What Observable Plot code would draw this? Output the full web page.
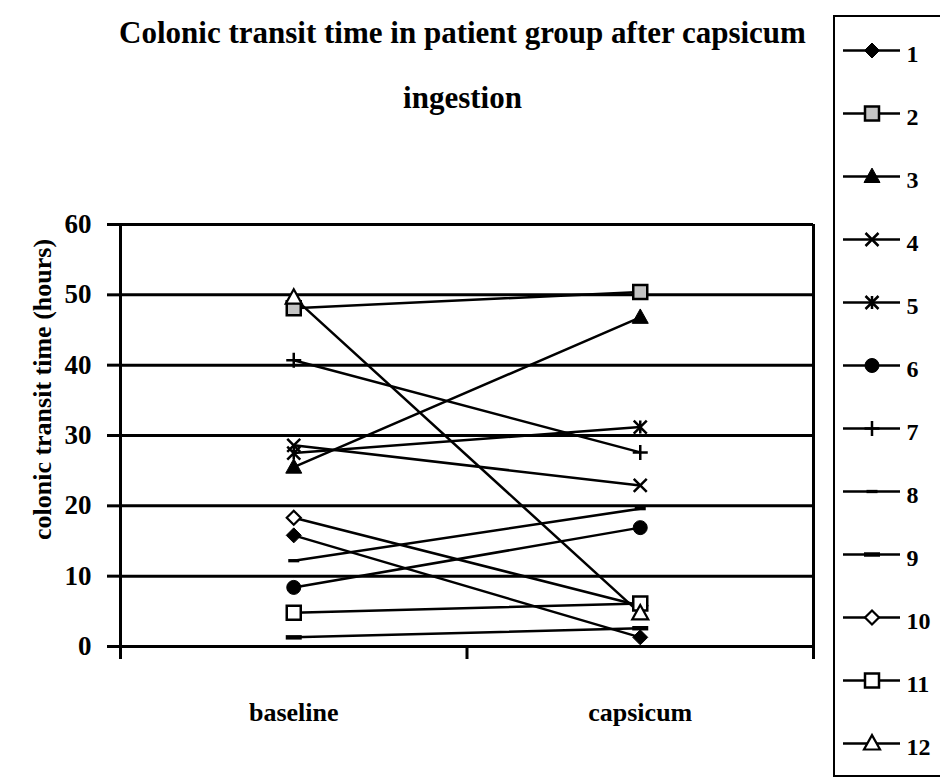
<!DOCTYPE html>
<html>
<head>
<meta charset="utf-8">
<script src="https://cdn.jsdelivr.net/npm/d3@7"></script>
<script src="https://cdn.jsdelivr.net/npm/@observablehq/plot@0.6"></script>
<style>
  html, body { margin: 0; padding: 0; background: white; }
  #wrap { position: relative; width: 940px; height: 780px; overflow: hidden; font-family: "Liberation Serif", "Times New Roman", serif; font-weight: bold; color: black; }
  #title { position: absolute; left: 0; top: 0; width: 925px; text-align: center; font-size: 31px; }
  #title div { position: absolute; width: 100%; }
  #main { position: absolute; left: 0; top: 140px; }
  #legend { position: absolute; left: 833px; top: 15px; width: 112px; height: 762px; box-sizing: border-box; border: 2.5px solid black; }
  #legend svg { position: absolute; left: -2.5px; top: -2.5px; max-width: none !important; height: 762px !important; }
</style>
</head>
<body>
<div id="wrap">
  <div id="title">
    <div style="top:15px">Colonic transit time in patient group after capsicum</div>
    <div style="top:80px">ingestion</div>
  </div>
  <div id="main"></div>
  <div id="legend"></div>
</div>
<script>
// ---- data ----
const series = ["1", "2", "3", "4", "5", "6", "7", "8", "9", "10", "11", "12"];
const categories = ["baseline", "capsicum"];
const baseline = [15.8, 48.1, 25.5, 28.6, 27.5, 8.4, 40.7, 12.2, 1.3, 18.3, 4.8, 49.6];
const capsicum = [1.3, 50.4, 46.8, 22.9, 31.2, 16.9, 27.6, 19.6, 2.6, 5.8, 6.1, 4.7];
const yTicks = [0, 10, 20, 30, 40, 50, 60];
const yLabel = "colonic transit time (hours)";

// ---- marker styles (one per series) ----
function sym(fn) { return { draw(ctx, size) { fn(ctx, Math.sqrt(size / Math.PI)); } }; }
const shapes = {
  diamond: sym((c, r) => { c.moveTo(0, -r); c.lineTo(r, 0); c.lineTo(0, r); c.lineTo(-r, 0); c.closePath(); }),
  square: sym((c, r) => { c.rect(-r, -r, 2 * r, 2 * r); }),
  triangle: sym((c, r) => { c.moveTo(0, -r * 1.05); c.lineTo(r, r * 0.75); c.lineTo(-r, r * 0.75); c.closePath(); }),
  times: sym((c, r) => { c.moveTo(-r, -r); c.lineTo(r, r); c.moveTo(r, -r); c.lineTo(-r, r); }),
  asterisk: sym((c, r) => { c.moveTo(-r, -r); c.lineTo(r, r); c.moveTo(r, -r); c.lineTo(-r, r); c.moveTo(0, -r); c.lineTo(0, r); }),
  circle: sym((c, r) => { c.moveTo(r, 0); c.arc(0, 0, r, 0, 2 * Math.PI); }),
  plus: sym((c, r) => { c.moveTo(-r, 0); c.lineTo(r, 0); c.moveTo(0, -r); c.lineTo(0, r); }),
  dash: sym((c, r) => { c.rect(-r, -r * 0.3, 2 * r, r * 0.6); }),
  longdash: sym((c, r) => { c.rect(-r, -r * 0.28, 2 * r, r * 0.56); })
};
const styleOf = [
  { s: "diamond", r: 7.5, fill: "black", stroke: "black", sw: 1 },
  { s: "square", r: 7, fill: "#c4c4c4", stroke: "black", sw: 2.5 },
  { s: "triangle", r: 8, fill: "black", stroke: "black", sw: 1 },
  { s: "times", r: 6.5, fill: "none", stroke: "black", sw: 2.5 },
  { s: "asterisk", r: 6.5, fill: "none", stroke: "black", sw: 2.5 },
  { s: "circle", r: 7, fill: "black", stroke: "black", sw: 1 },
  { s: "plus", r: 7.5, fill: "none", stroke: "black", sw: 2.5 },
  { s: "dash", r: 5.5, fill: "black", stroke: "none", sw: 0 },
  { s: "longdash", r: 8, fill: "black", stroke: "none", sw: 0 },
  { s: "diamond", r: 7, fill: "white", stroke: "black", sw: 2.2 },
  { s: "square", r: 7, fill: "white", stroke: "black", sw: 2.5 },
  { s: "triangle", r: 8, fill: "white", stroke: "black", sw: 2.2 }
];

const rows = series.flatMap((s, i) => [
  { series: s, x: 0.5, v: baseline[i] },
  { series: s, x: 1.5, v: capsicum[i] }
]);

const font = { fontFamily: "'Liberation Serif', 'Times New Roman', serif", fontWeight: "bold", fontSize: "26px", color: "black", background: "transparent", overflow: "visible" };

const lineMarks = series.map((s, i) => Plot.line(rows.filter(d => d.series === s), { x: "x", y: "v", stroke: "black", strokeWidth: 2.5 }));
const dotMarks = series.map((s, i) => {
  const st = styleOf[i];
  return Plot.dot(rows.filter(d => d.series === s), { x: "x", y: "v", symbol: shapes[st.s], r: st.r, fill: st.fill, stroke: st.stroke, strokeWidth: st.sw });
});

const main = Plot.plot({
  width: 830, height: 640,
  marginTop: 84, marginBottom: 134, marginLeft: 120, marginRight: 17,
  x: { domain: [0, 2] },
  y: { domain: [0, 60] },
  style: font,
  marks: [
    Plot.ruleY(yTicks, { stroke: "black", strokeWidth: 3 }),
    Plot.ruleX([0, 2], { y1: 0, y2: 60, stroke: "black", strokeWidth: 3 }),
    Plot.axisY({ ticks: yTicks, tickSize: 13, tickPadding: 16, strokeWidth: 3, label: null, fontSize: 27 }),
    Plot.axisX({ ticks: [0, 1, 2], tickSize: 13, tickFormat: () => "", strokeWidth: 3, label: null }),
    Plot.axisX({ ticks: [0.5, 1.5], tickSize: 0, tickPadding: 56, tickFormat: d => categories[Math.round(d - 0.5)], label: null, fontSize: 26 }),
    Plot.text([yLabel], { frameAnchor: "left", textAnchor: "middle", rotate: -90, dx: -78, dy: -46, fontSize: 26, text: d => d }),
    ...lineMarks,
    ...dotMarks
  ]
});
document.getElementById("main").appendChild(main);

// ---- legend ----
const legRows = series.map((s, i) => ({ series: s, i }));
const legend = Plot.plot({
  width: 112, height: 762,
  margin: 0,
  x: { domain: [0, 1], range: [10, 67], axis: null },
  y: { type: "point", domain: series, range: [33, 730], padding: 0, axis: null },
  style: font,
  marks: [
    Plot.ruleY(legRows, { y: "series", x1: 0, x2: 1, stroke: "black", strokeWidth: 2.5 }),
    ...legRows.map(d => {
      const st = styleOf[d.i];
      return Plot.dot([d], { x: 0.5, y: "series", symbol: shapes[st.s], r: st.r, fill: st.fill, stroke: st.stroke, strokeWidth: st.sw });
    }),
    Plot.text(legRows, { x: 1, y: "series", text: "series", dx: 6, dy: 4, textAnchor: "start", fontSize: 24 })
  ]
});
document.getElementById("legend").appendChild(legend);
</script>
</body>
</html>
